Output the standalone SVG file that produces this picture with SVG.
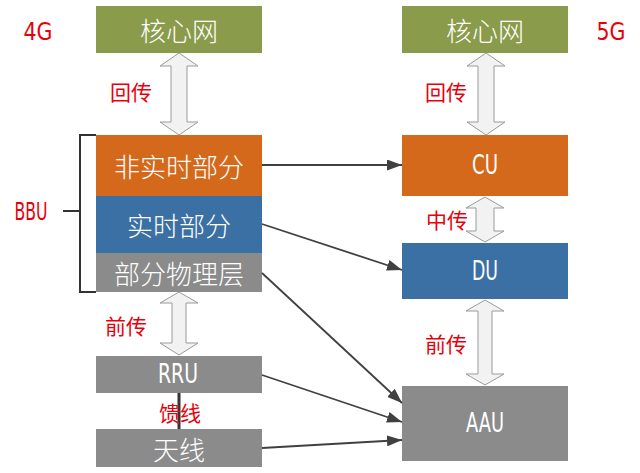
<svg xmlns="http://www.w3.org/2000/svg" width="640" height="473" viewBox="0 0 640 473">
<defs>
<style>
.box{stroke:none}
.g{fill:#8A9B4B}.o{fill:#D4691C}.b{fill:#3B70A4}.gr{fill:#8B8B8B}
.t{font-family:"Noto Sans CJK SC","DejaVu Sans",sans-serif;font-size:26px;font-weight:300;fill:#fff;text-anchor:middle;dominant-baseline:central}
.l{font-family:"DejaVu Sans",sans-serif;font-size:26px;fill:#fff;text-anchor:middle;dominant-baseline:central}
.r{font-family:"Noto Sans CJK SC",sans-serif;font-size:21px;fill:#E8000B;text-anchor:middle;dominant-baseline:central}
.rl{font-family:"DejaVu Sans",sans-serif;font-size:24px;fill:#E8000B;text-anchor:middle;dominant-baseline:central}
.da{fill:#F2F2F2;stroke:#9A9A9A;stroke-width:1}
.c{stroke:#404040;stroke-width:1.8;fill:none;marker-end:url(#ah)}
</style>
<marker id="ah" viewBox="0 0 10 10" refX="10" refY="5" markerWidth="15" markerHeight="11" markerUnits="userSpaceOnUse" orient="auto" preserveAspectRatio="none">
<path d="M0,0 L10,5 L0,10 z" fill="#404040"/>
</marker>
</defs>
<rect width="640" height="473" fill="#fff"/>

<g id="label-4g"><text class="rl" x="38" y="32" textLength="29" lengthAdjust="spacingAndGlyphs">4G</text></g>
<g id="label-5g"><text class="rl" x="611" y="32" textLength="29" lengthAdjust="spacingAndGlyphs">5G</text></g>

<g id="core-4g"><rect class="box g" x="96" y="6" width="166" height="47"/><text class="t" x="179" y="29">核心网</text></g>
<g id="core-5g"><rect class="box g" x="402" y="6" width="166" height="47"/><text class="t" x="485" y="29">核心网</text></g>

<g id="nrt"><rect class="box o" x="96" y="135" width="166" height="61"/><text class="t" x="179" y="165">非实时部分</text></g>
<g id="rt"><rect class="box b" x="96" y="196" width="166" height="57"/><text class="t" x="179" y="224">实时部分</text></g>
<g id="phy"><rect class="box gr" x="96" y="253" width="166" height="39"/><text class="t" x="179" y="272">部分物理层</text></g>

<g id="bbu">
<path d="M96,135 H80 V292 H96 M80,211 H63" fill="none" stroke="#333" stroke-width="2"/>
<text class="rl" x="31" y="212" textLength="33" lengthAdjust="spacingAndGlyphs">BBU</text>
</g>

<g id="rru"><rect class="box gr" x="96" y="356" width="166" height="37"/><text class="l" x="178" y="374" textLength="40" lengthAdjust="spacingAndGlyphs">RRU</text></g>
<g id="ant"><rect class="box gr" x="96" y="429" width="166" height="38"/><text class="t" x="179" y="448">天线</text></g>

<g id="cu"><rect class="box o" x="402" y="135" width="166" height="61"/><text class="l" x="485" y="165" textLength="26" lengthAdjust="spacingAndGlyphs">CU</text></g>
<g id="du"><rect class="box b" x="402" y="243" width="166" height="56"/><text class="l" x="485" y="271" textLength="26" lengthAdjust="spacingAndGlyphs">DU</text></g>
<g id="aau"><rect class="box gr" x="402" y="386" width="166" height="75"/><text class="l" x="485" y="423" textLength="38" lengthAdjust="spacingAndGlyphs">AAU</text></g>

<g id="connectors">
<path class="da" d="M179,53 L198,66 L187,66 L187,122 L198,122 L179,135 L160,122 L171,122 L171,66 L160,66 Z"/>
<path class="da" d="M486,53 L505,66 L494,66 L494,122 L505,122 L486,135 L467,122 L478,122 L478,66 L467,66 Z"/>
<path class="da" d="M485,197 L504,208 L494,208 L494,231 L504,231 L485,242 L466,231 L476,231 L476,208 L466,208 Z"/>
<path class="da" d="M485,300 L504,311 L492,311 L492,374 L504,374 L485,385 L466,374 L478,374 L478,311 L466,311 Z"/>
<path class="da" d="M179,292 L198,303 L186,303 L186,343 L198,343 L179,355 L160,343 L172,343 L172,303 L160,303 Z"/>
<line x1="179" y1="393" x2="179" y2="429" stroke="#333" stroke-width="3"/>
<line class="c" x1="262" y1="165" x2="402" y2="165"/>
<line class="c" x1="262" y1="224" x2="402" y2="270"/>
<line class="c" x1="262" y1="273" x2="402" y2="403"/>
<line class="c" x1="262" y1="375" x2="402" y2="422"/>
<line class="c" x1="262" y1="448" x2="402" y2="440"/>
</g>

<g id="labels">
<text class="r" x="131" y="91">回传</text>
<text class="r" x="446" y="91">回传</text>
<text class="r" x="447" y="219">中传</text>
<text class="r" x="446" y="343">前传</text>
<text class="r" x="126" y="325">前传</text>
<text class="r" x="180" y="412">馈线</text>
</g>
</svg>
